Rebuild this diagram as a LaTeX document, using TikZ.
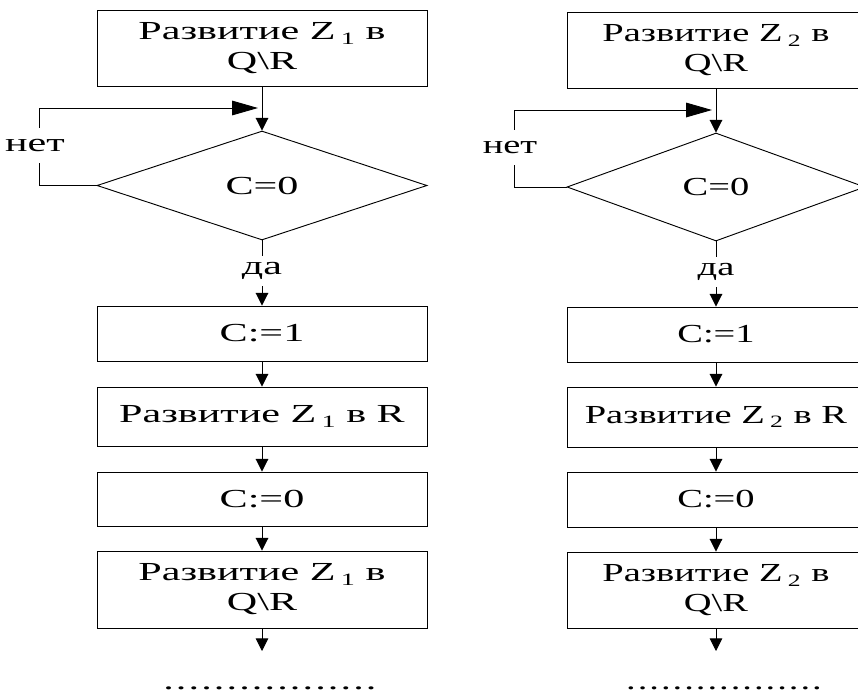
\documentclass[tikz,border=0pt]{standalone}
\usepackage{fontspec}
\setmainfont{Liberation Serif}
\newfontfamily\leftfont{Liberation Serif}[FakeStretch=1.62]
\newfontfamily\rightfont{Liberation Serif}[FakeStretch=1.48]
\usetikzlibrary{shapes.geometric,arrows.meta}

% lowered, spaced index after a letter
\newcommand\idx[1]{\hspace{4pt}\raisebox{-3.5pt}{\fontsize{13}{13}\selectfont #1}\hspace{8pt}}

\begin{document}
\begin{tikzpicture}[x=0.75pt,y=-0.75pt,
  line width=0.7pt,
  lcol/.style={font=\leftfont\fontsize{19.5}{22.5}\selectfont},
  rcol/.style={font=\rightfont\fontsize{19.5}{22.5}\selectfont},
  block/.style={draw,rectangle,inner sep=0pt,align=center},
  lblock/.style={block,lcol,minimum width=247.5pt},
  rblock/.style={block,rcol,minimum width=223.5pt},
  decision/.style={draw,diamond,inner sep=0pt},
  lbl/.style={fill=white,inner xsep=1pt,inner ysep=0pt},
  flow/.style={-{Triangle[length=9.5pt,width=9.5pt]}},
  loopback/.style={-{Triangle[length=19.5pt,width=11pt]}},
  dotrow/.style={anchor=base,inner sep=0pt}
]
\useasboundingbox (0,0) rectangle (858,693);
\clip (0,0) rectangle (858,693);

% ---------- left branch: Z_1 ----------
\node[lblock,minimum height=57pt] (a1) at (262,48)
  {Развитие Z\idx{1}в\\Q\textbackslash R};
\node[decision,lcol,minimum width=247.5pt,minimum height=81.75pt] (a2) at (262,185.5) {C=0};
\node[lblock,minimum height=41.25pt] (a3) at (262,333.5) {C:=1};
\node[lblock,minimum height=44.25pt] (a4) at (262,416.5) {Развитие Z\idx{1}в R};
\node[lblock,minimum height=40.5pt] (a5) at (262,499) {C:=0};
\node[lblock,minimum height=57.75pt] (a6) at (262,589.5)
  {Развитие Z\idx{1}в\\Q\textbackslash R};
\coordinate (a7) at (262,651);
\coordinate (aturn) at (39,108);
\coordinate (ahit) at (258,108);

\draw[flow] (a1) -- (a2);
\draw[loopback] (a2.west) -| (aturn) -- (ahit);
\draw[flow] (a2) -- (a3);
\draw[flow] (a3) -- (a4);
\draw[flow] (a4) -- (a5);
\draw[flow] (a5) -- (a6);
\draw[flow] (a6) -- (a7);
\node[lbl,lcol,minimum height=26pt] (ano) at (35,145.5) {нет};
\node[lbl,lcol,minimum height=22.5pt] (ayes) at (262,270.5) {да};
\node[dotrow,lcol] (adots) at (271,689)
  {\foreach \k in {1,...,17}{.\kern1.6pt}};

% ---------- right branch: Z_2 ----------
\node[rblock,minimum height=57pt] (b1) at (716,50)
  {Развитие Z\idx{2}в\\Q\textbackslash R};
\node[decision,rcol,minimum width=223.5pt,minimum height=81pt] (b2) at (716,187) {C=0};
\node[rblock,minimum height=41.25pt] (b3) at (716,334.5) {C:=1};
\node[rblock,minimum height=45pt] (b4) at (716,417) {Развитие Z\idx{2}в R};
\node[rblock,minimum height=41.25pt] (b5) at (716,499.5) {C:=0};
\node[rblock,minimum height=57pt] (b6) at (716,590)
  {Развитие Z\idx{2}в\\Q\textbackslash R};
\coordinate (b7) at (716,651);
\coordinate (bturn) at (514,110);
\coordinate (bhit) at (712,110);

\draw[flow] (b1) -- (b2);
\draw[loopback] (b2.west) -| (bturn) -- (bhit);
\draw[flow] (b2) -- (b3);
\draw[flow] (b3) -- (b4);
\draw[flow] (b4) -- (b5);
\draw[flow] (b5) -- (b6);
\draw[flow] (b6) -- (b7);
\node[lbl,rcol,minimum height=26pt] (bno) at (510,147.5) {нет};
\node[lbl,rcol,minimum height=22.5pt] (byes) at (716,272) {да};
\node[dotrow,rcol] (bdots) at (725,689)
  {\foreach \k in {1,...,17}{.\kern1.5pt}};
\end{tikzpicture}
\end{document}
